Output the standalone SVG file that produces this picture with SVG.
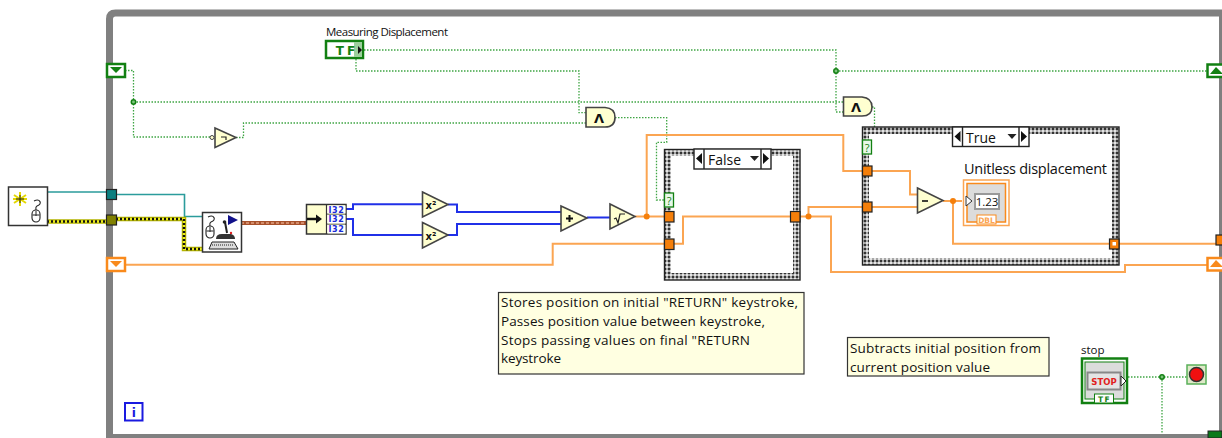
<svg xmlns="http://www.w3.org/2000/svg" width="1222" height="438" viewBox="0 0 1222 438">
<style>
text{font-family:"Open Sans","DejaVu Sans",sans-serif;fill:#111}
.note{font-size:13.5px}
.prim{fill:#ffffd0;stroke:#444;stroke-width:1.6}
.opt{font-family:"DejaVu Sans",sans-serif;font-size:13px;font-weight:bold;text-anchor:middle}
.sq{font-family:"DejaVu Sans",sans-serif;font-size:10px;font-weight:bold}
.g{fill:none;stroke:#3fa544;stroke-width:1.3;stroke-dasharray:1.5 1.5}
.o{fill:none;stroke:#fba552;stroke-width:2}
.b{fill:none;stroke:#2030e8;stroke-width:2}
.t{fill:none;stroke:#2b9c9c;stroke-width:1.6}
.tun{fill:#f57f0a;stroke:#222;stroke-width:1.2}
.dot{fill:#f57f0a}
.gdot{fill:#7cc47c;stroke:#128012;stroke-width:1.5}
.sel{fill:#fff;stroke:#222;stroke-width:1.4}
.frame{fill:none;stroke:url(#chk);stroke-width:7}
.edge{fill:none;stroke:#222;stroke-width:1.4}
.i32{font-family:"DejaVu Sans",sans-serif;font-size:8px;font-weight:bold;fill:#1a2bd8;text-anchor:middle;letter-spacing:.6px}
</style>
<defs>
<pattern id="chk" width="4" height="4" patternUnits="userSpaceOnUse">
<rect width="4" height="4" fill="#a8a8a8"/><rect width="2" height="2" fill="#333"/><rect x="2" y="2" width="2" height="2" fill="#e4e4e4"/>
</pattern>
<g id="mouse"><path d="M2 0c6-3 9 3 3 5c-2 1-1 3-1 4" fill="none" stroke="#222" stroke-width="1.100"/><rect x="0" y="9" width="8" height="12" rx="4" fill="#fff" stroke="#222" stroke-width="1.100"/><path d="M4 10v5M0.500 14h7" stroke="#222" stroke-width="1" fill="none"/></g>
</defs>

<g id="while-loop">
<path d="M109.500 438V19q0-6 6-6H1222" fill="none" stroke="#808080" stroke-width="7"/>
<path d="M106 436H1222" stroke="#808080" stroke-width="4"/>
<rect x="1219" y="16" width="3" height="420" fill="#808080"/>
</g>

<g id="connectors">
<path class="g" d="M125 70.500H133.500V137H211"/>
<path class="g" d="M133.500 102H843"/>
<path class="g" d="M236 137.500H243.500V123H586"/>
<path class="g" d="M361 50H836V112H843"/>
<path class="g" d="M356 59V71H579V112.700H586"/>
<path class="g" d="M836 71H1207"/>
<path class="g" d="M615 117.700H666.700V142.300H656.500V200H664"/>
<path class="g" d="M872 107H874.500V127"/>
<path class="g" d="M1125 377H1187M1162 377V434"/>
<path class="t" d="M47 192H106M116 194.500H184.500V216.500H202"/>
<path d="M47 221.500H106M116 219H184V249H202" fill="none" stroke="#b4b400" stroke-width="4.500"/>
<path d="M47 221.500H106M116 219H184V249H202" fill="none" stroke="#eeee20" stroke-width="2"/>
<path d="M47 221.500H106M116 219H184V249H202" fill="none" stroke="#111" stroke-width="2.400" stroke-dasharray="2 2"/>
<path d="M241 223H306" fill="none" stroke="#a8522c" stroke-width="4"/>
<path d="M241 223H306" fill="none" stroke="#e0a080" stroke-width="1.500" stroke-dasharray="3 2"/>
<path class="b" d="M346 209H353V204.300H423M346 219H353V235H423"/>
<path class="b" d="M448 204.500H457V212H561M448 235H457V224H561M587 217.500H610"/>
<path class="o" d="M125 264.700H552.700V243.700H664"/>
<path class="o" d="M635 216.500H664"/>
<path class="o" d="M646.700 216.500V135H843.300V171H862"/>
<path class="o" d="M674 243.700H683V216.500H790"/>
<path class="o" d="M800 216.500H831V272H1125V265H1207"/>
<path class="o" d="M808.500 216.500V207H862"/>
<path class="o" d="M872 171H910V194.500H917"/>
<path class="o" d="M872 207H917"/>
<path class="o" d="M943 201H962"/>
<path class="o" d="M953 201V243.700H1109M1119 243.700H1216"/>
<circle class="gdot" cx="133.500" cy="102" r="2.200"/>
<circle class="gdot" cx="836" cy="71" r="2.200"/>
<circle class="gdot" cx="1162" cy="377" r="2.200"/>
<circle class="dot" cx="646.700" cy="216.500" r="3"/>
<circle class="dot" cx="808.500" cy="216.500" r="3"/>
<circle class="dot" cx="953" cy="201" r="3"/>
<path d="M610 214l3 3.500l-3 3.500z" fill="#f01010"/>
</g>

<g id="tunnel-left-bool"><rect x="107" y="64" width="18" height="13" fill="#fff" stroke="#128012" stroke-width="2.500"/><path d="M110 67h12l-6 6z" fill="#128012"/></g>
<g id="tunnel-left-teal"><rect x="106.500" y="189.500" width="10" height="10" fill="#0c7f80" stroke="#222" stroke-width="1.200"/></g>
<g id="tunnel-left-ref"><rect x="106.500" y="215" width="10" height="10" fill="#808000" stroke="#222" stroke-width="1.200"/></g>
<g id="tunnel-left-dbl"><rect x="107" y="258" width="18" height="13" fill="#fff" stroke="#f98a1c" stroke-width="2.500"/><path d="M110 261h12l-6 6z" fill="#f98a1c"/></g>
<g id="tunnel-right-bool"><rect x="1207.500" y="64.500" width="16" height="12.500" fill="#fff" stroke="#128012" stroke-width="2.500"/><path d="M1210 74h12v-1l-6-6z" fill="#128012"/></g>
<g id="tunnel-right-out"><rect x="1216" y="235" width="7" height="10" class="tun"/></g>
<g id="tunnel-right-dbl"><rect x="1207.500" y="258" width="16" height="12.500" fill="#fff" stroke="#f98a1c" stroke-width="2.500"/><path d="M1210 267h12v-1l-6-6z" fill="#f98a1c"/></g>
<g id="tunnel-bottom"><rect x="1208" y="431" width="14" height="7" fill="#0a7a1a" stroke="#222"/></g>

<g id="new-input"><rect x="8.500" y="187" width="39" height="38.500" fill="#fff" stroke="#333" stroke-width="1.500"/>
<path d="M20 192v14M14 195l12 8M26 195l-12 8M13 199h14" stroke="#e4d800" stroke-width="2"/><path d="M20 195v8M16 199h8" stroke="#222" stroke-width="1"/>
<use href="#mouse" x="32" y="201"/></g>

<g id="acquire-input"><rect x="202.500" y="212.500" width="39" height="39.500" fill="#fff" stroke="#333" stroke-width="1.500"/>
<use href="#mouse" x="206" y="217"/>
<path d="M228 215v10l10-5z" fill="#10108a"/>
<path d="M225 222l2 11" stroke="#222" stroke-width="2"/><circle cx="224.500" cy="222" r="1.800" fill="#222"/><path d="M216 239q0-5 6-5h9q4 1 4 5z" fill="#333"/><circle cx="231" cy="233" r="1.200" fill="#e02020"/>
<path d="M209 249l3-7h22l4 7z" fill="#ddd" stroke="#222" stroke-width="1"/><path d="M212 245h22" stroke="#222" stroke-dasharray="1 1"/></g>

<g id="unbundle"><rect x="306.500" y="204.500" width="39.500" height="29.500" fill="#ffffd0" stroke="#333" stroke-width="1.500"/>
<path d="M326.500 204.500V234M326.500 214h19.500M326.500 224h19.500" stroke="#333" stroke-width="1.200"/>
<rect x="327.500" y="205.500" width="18" height="8" fill="#fff"/><rect x="327.500" y="215" width="18" height="8.500" fill="#fff"/><rect x="327.500" y="225" width="18" height="8.500" fill="#fff"/>
<path d="M307 219h12" stroke="#111" stroke-width="2.500"/><path d="M316 214.500l6 4.500l-6 4.500z" fill="#111"/>
<text class="i32" x="336.500" y="212.700">I32</text><text class="i32" x="336.500" y="222.300">I32</text><text class="i32" x="336.500" y="232.300">I32</text></g>

<g id="not"><circle cx="212" cy="137.500" r="2" fill="#ffffd0" stroke="#444"/><path class="prim" d="M215 128L236 137.500L215 147.500Z"/><path d="M221 137h5v3" fill="none" stroke="#222" stroke-width="1.200"/></g>
<g id="and1"><path class="prim" d="M586 107.500H605Q615 108 615 117.500Q615 127 605 127H586Z"/><text class="opt" x="599" y="122.500">Λ</text></g>
<g id="and2"><path class="prim" d="M843.500 97H862Q872 98 872 107Q872 116 862 116H843.500Z"/><text class="opt" x="856" y="112">Λ</text></g>
<g id="square1"><path class="prim" d="M422.500 192L448 204.500L422.500 217Z"/><text class="sq" x="425.500" y="209">x²</text></g>
<g id="square2"><path class="prim" d="M422.500 222.500L448 235L422.500 248Z"/><text class="sq" x="425.500" y="239.500">x²</text></g>
<g id="add"><path class="prim" d="M561 206L587 218L561 231Z"/><path d="M566 218.500h7M569.500 215v7" stroke="#111" stroke-width="2"/></g>
<g id="sqrt"><path class="prim" d="M610 204L635 216.500L610 229Z"/><path d="M614 219l2-1l2 5l2-9h5" fill="none" stroke="#222" stroke-width="1.200"/></g>
<g id="subtract"><path class="prim" d="M917.500 188L943 200.500L917.500 213Z"/><path d="M922 201h6" stroke="#111" stroke-width="1.600"/></g>

<g id="measuring-displacement"><text x="326" y="36" style="font-size:11.500px" textLength="122">Measuring Displacement</text>
<rect x="326" y="41" width="37" height="17" fill="#fff" stroke="#128012" stroke-width="2.500"/><rect x="354" y="42" width="8" height="15" fill="#9ccf9c"/>
<text x="347" y="55" style="font-family:'DejaVu Sans';font-size:12px;font-weight:bold;fill:#128012;text-anchor:middle;letter-spacing:3px">TF</text><path d="M358 46l4 4l-4 4z" fill="#111"/></g>

<g id="case-false"><rect class="frame" x="667.500" y="152.500" width="129" height="124"/><rect class="edge" x="664.500" y="149.500" width="135.500" height="130.500"/>
<rect class="sel" x="694" y="149" width="77" height="20"/><path d="M704 149v20M761 149v20" stroke="#222" stroke-width="1.400"/>
<path d="M702 153v11l-6-5.500zM763 153v11l6-5.500z" fill="#111"/><path d="M750 156h9l-4.500 5z" fill="#222"/>
<text x="708" y="165" style="font-size:14px">False</text></g>
<g id="selector1"><rect x="664.500" y="193" width="9" height="14" fill="#e8f8e8" stroke="#128012" stroke-width="1.300"/><text x="669" y="205" style="font-size:11px;fill:#128012;text-anchor:middle">?</text></g>
<g id="t1"><rect class="tun" x="664.500" y="211.500" width="9.500" height="10.500"/></g>
<g id="t2"><rect class="tun" x="664.500" y="239" width="9.500" height="10.500"/></g>
<g id="t3"><rect class="tun" x="790.500" y="211.500" width="9.500" height="10.500"/></g>

<g id="case-true"><rect class="frame" x="865.500" y="130.500" width="250" height="131"/><rect class="edge" x="862.500" y="127" width="256.500" height="138"/>
<rect class="sel" x="952.500" y="127" width="76.500" height="19.500"/><path d="M962.500 127v19.500M1019 127v19.500" stroke="#222" stroke-width="1.400"/>
<path d="M960.500 131v11l-6-5.500zM1021 131v11l6-5.500z" fill="#111"/><path d="M1007.500 134h9l-4.500 5z" fill="#222"/>
<text x="966" y="143" style="font-size:14px">True</text></g>
<g id="selector2"><rect x="862.500" y="140" width="9" height="14" fill="#e8f8e8" stroke="#128012" stroke-width="1.300"/><text x="867" y="152" style="font-size:11px;fill:#128012;text-anchor:middle">?</text></g>
<g id="t4"><rect class="tun" x="862.500" y="166" width="9.500" height="10"/></g>
<g id="t5"><rect class="tun" x="862.500" y="202" width="9.500" height="10"/></g>
<g id="t6"><rect class="tun" x="1109.500" y="239" width="9.500" height="10"/><rect x="1112.500" y="242" width="3.500" height="3.500" fill="#fff"/></g>

<g id="unitless"><text x="964" y="174" style="font-size:14.500px" textLength="143">Unitless displacement</text>
<rect x="963.500" y="180" width="45.500" height="45.500" fill="#fff" stroke="#fba552" stroke-width="1.500"/><rect x="967" y="183.500" width="38.500" height="38.500" fill="#dcdcdc" stroke="#f98a1c" stroke-width="1.500"/>
<rect x="975" y="194" width="24" height="15" fill="#fff" stroke="#999" stroke-width="2"/><text x="987" y="206" style="font-size:11.500px;text-anchor:middle">1.23</text>
<path d="M966 196l6 5l-6 5z" fill="#fff" stroke="#333"/>
<rect x="977" y="215" width="19" height="9" fill="#fff" stroke="#f98a1c"/><text x="986.500" y="223" style="font-family:'DejaVu Sans';font-size:7.500px;font-weight:bold;fill:#fba552;text-anchor:middle">DBL</text></g>

<g id="note1"><rect x="498.500" y="292.500" width="305.500" height="81.500" fill="#ffffe1" stroke="#333" stroke-width="1.200"/>
<text class="note" x="501" y="307" textLength="297">Stores position on initial "RETURN" keystroke,</text>
<text class="note" x="501" y="326" textLength="264">Passes position value between keystroke,</text>
<text class="note" x="501" y="345" textLength="249">Stops passing values on final "RETURN</text>
<text class="note" x="501" y="363" textLength="60">keystroke</text></g>
<g id="note2"><rect x="847.500" y="337.500" width="201.500" height="38.500" fill="#ffffe1" stroke="#333" stroke-width="1.200"/>
<text class="note" x="850" y="353" textLength="191">Subtracts initial position from</text>
<text class="note" x="850" y="372" textLength="140">current position value</text></g>

<g id="stop"><text x="1081" y="354" style="font-size:11.500px">stop</text>
<rect x="1082" y="358.500" width="45" height="44.500" fill="#fff" stroke="#128012" stroke-width="2.500"/><rect x="1085" y="362" width="39" height="37" fill="#dcdcdc" stroke="#128012"/>
<rect x="1087.500" y="372.500" width="33" height="17" fill="#e4e4e4" stroke="#888" stroke-width="2"/>
<text x="1104" y="385" style="font-family:'DejaVu Sans';font-size:8.500px;font-weight:bold;fill:#e02020;text-anchor:middle">STOP</text>
<path d="M1121 376l5 5l-5 5z" fill="#fff" stroke="#222"/>
<rect x="1094.500" y="394" width="19" height="9" fill="#fff" stroke="#128012"/><text x="1104.500" y="402" style="font-family:'DejaVu Sans';font-size:7.500px;font-weight:bold;fill:#128012;text-anchor:middle;letter-spacing:1.500px">TF</text></g>

<g id="loop-condition"><rect x="1187" y="365" width="19" height="19" fill="#dfe8c8" stroke="#5ab05a" stroke-width="1.500"/><circle cx="1196.500" cy="374.500" r="7" fill="#f01010" stroke="#333" stroke-width="1.500"/></g>
<g id="iteration"><rect x="125" y="403" width="17.500" height="17.500" fill="#fff" stroke="#1a1ae0" stroke-width="2"/><text x="133.800" y="416.500" style="font-family:'DejaVu Sans';font-size:12px;font-weight:bold;fill:#1a1ae0;text-anchor:middle">i</text></g>
</svg>
